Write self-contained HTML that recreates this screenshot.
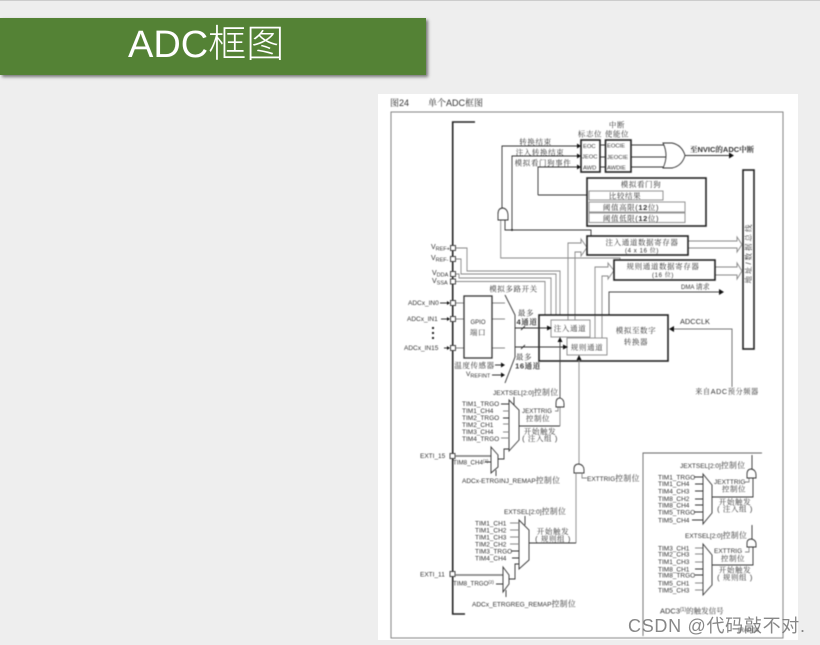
<!DOCTYPE html>
<html><head><meta charset="utf-8"><style>
html,body{margin:0;padding:0;background:#eee;width:820px;height:645px;overflow:hidden}
#top{position:absolute;left:0;top:0;width:820px;height:1px;background:#ccc}
#title{position:absolute;left:0;top:18px;width:426px;height:57px;background:#548235;box-shadow:2px 2px 3px #777}
#tt{position:absolute;left:128px;top:18px;font:300 38px/55px "Liberation Sans","Noto Sans CJK SC",sans-serif;color:#fff;white-space:nowrap}
#panel{position:absolute;left:378px;top:94px;width:420px;height:546px;background:#fff}
#d{position:absolute;left:0;top:0;filter:blur(.45px)}
#wm{position:absolute;left:628px;top:613px;font:18px/26px "Liberation Sans","Noto Sans CJK SC",sans-serif;color:rgba(105,105,105,.8);white-space:nowrap;letter-spacing:.7px}
text{font-family:"Liberation Sans","Noto Serif CJK SC",serif;fill:#333;font-size:6.5px}
.c{font-size:7.5px;letter-spacing:.6px;text-anchor:middle}
.z{font-size:7.8px;letter-spacing:.4px}
.b{font-weight:bold}
.g{fill:none;stroke:#888;stroke-width:.9}
.k{fill:none;stroke:#333;stroke-width:.9}
.m{fill:none;stroke:#444;stroke-width:.9}
.t{fill:#fff;stroke:#222;stroke-width:1.6}
.w{fill:#fff;stroke:#888;stroke-width:.9}
.p{fill:#fff;stroke:#333;stroke-width:.9}
.a{fill:#111;stroke:none}
</style></head><body>
<div id="top"></div>
<div id="title"></div><div id="tt">ADC框图</div>
<div id="panel"></div>
<svg id="d" width="820" height="645" viewBox="0 0 820 645" xmlns="http://www.w3.org/2000/svg">
<rect x="391" y="112" width="392" height="526" fill="none" stroke="#777" stroke-width=".9"/>
<text x="390" y="106" style="font-size:9px">图24</text>
<text x="428" y="106" style="font-size:9px">单个ADC框图</text>

<path d="M475 122H452.7V614H465" fill="none" stroke="#222" stroke-width="1.6"/>

<!-- top connectors -->
<path class="k" d="M502 208V146H578M512 230V156H578M538 195V167H578M538 195H589M505 220V230H591V236"/>
<path class="g" d="M500.7 220V258H620V260"/>
<circle cx="512" cy="230" r="1" fill="#222"/>
<path class="a" d="M577 143.500l4 2.500-4 2.500zM577 153.500l4 2.500-4 2.500zM577 164.500l4 2.500-4 2.500z"/>
<path class="p" d="M498 220V214Q498 208 503 208Q508 209 508 216V220Z"/>
<text class="c" x="535.500" y="144.500">转换结束</text>
<text class="c" x="540" y="154.800">注入转换结束</text>
<text class="c" x="543" y="165.300">模拟看门狗事件</text>
<text class="c" x="590" y="136.500">标志位</text>
<text class="c" x="617" y="127.500">中断</text>
<text class="c" x="617" y="136.500">使能位</text>

<rect class="t" x="581" y="140" width="19" height="32"/>
<rect class="t" x="605.500" y="140" width="25.500" height="32"/>
<path class="k" d="M600 145H605M600 157H605M600 167H605M631 145H667M631 157H668M631 167H667"/>
<text x="583" y="148" style="font-size:5.8px">EOC</text>
<text x="582" y="158.500" style="font-size:5.8px">JEOC</text>
<text x="583" y="169.500" style="font-size:5.8px">AWD</text>
<text x="607" y="147.500" style="font-size:5.8px">EOCIE</text>
<text x="607" y="159" style="font-size:5.8px">JEOCIE</text>
<text x="607" y="169.500" style="font-size:5.8px">AWDIE</text>
<path class="p" d="M663 143Q669 155.500 663 168H672Q682 166 685 155.500Q682 145 672 143Z"/>
<path class="k" d="M685 155.500H730"/><path class="a" d="M729 152.500l5 3-5 3z"/>
<text x="690" y="152" class="b" style="font-size:7.5px">至NVIC的ADC中断</text>

<!-- watchdog -->
<rect class="t" x="587" y="178" width="119" height="48"/>
<text class="c" x="641" y="187">模拟看门狗</text>
<rect class="w" x="589" y="191" width="74" height="9"/>
<text class="c" x="625" y="198.500">比较结果</text>
<rect class="w" x="589" y="202" width="96" height="10"/>
<text class="c" x="631" y="210">阈值高限(<tspan class="b">12</tspan>位)</text>
<rect class="w" x="589" y="213" width="96" height="9.500"/>
<text class="c" x="631" y="221">阈值低限(<tspan class="b">12</tspan>位)</text>

<!-- bus -->
<rect class="t" x="743" y="170" width="11" height="179"/>
<text class="c" transform="translate(751 253) rotate(-90)" style="letter-spacing:2px">地址/数据总线</text>

<!-- registers -->
<path class="g" d="M688 241H737V237L742 244.500L737 252V248H688M715 267H737V263L742 271L737 279V275H715"/>
<path class="g" d="M568 320V243H581V239L587 247.500L581 256V252H575V320M595 320V267H608V263L614 270.500L608 279V276H602V338"/>
<rect class="t" x="587" y="236" width="101" height="19"/>
<text class="c" x="642" y="245">注入通道数据寄存器</text>
<text class="c" x="642" y="252.500" style="font-size:6px">(4 x 16 位)</text>
<rect class="t" x="614" y="260" width="101" height="20"/>
<text class="c" x="663" y="269">规则通道数据寄存器</text>
<text class="c" x="663" y="277" style="font-size:6px">(16 位)</text>
<path class="m" d="M609 315V292H720"/><path class="a" d="M719 289l5 3-5 3z"/>
<text x="681" y="289" style="font-size:6px">DMA <tspan style="font-size:7px">请求</tspan></text>

<!-- VREF lines -->
<path class="g" d="M456 248H467V271H560V315M456 259H461V274H556V315M456 274H459V278H551V315M456 281.500H545V315"/>

<!-- ADC block -->
<rect x="539" y="315" width="129" height="46" fill="#fff" stroke="#222" stroke-width="1.600"/>
<path class="g" d="M568 316V321M575 316V321M595 316V339M602 316V339"/>
<rect class="w" x="551" y="320" width="39" height="17"/>
<rect class="w" x="567" y="338" width="40" height="17"/>
<text class="c" x="570" y="331">注入通道</text>
<text class="c" x="587" y="350">规则通道</text>
<text class="c" x="636" y="333">模拟至数字</text>
<text class="c" x="636" y="344.500">转换器</text>
<path d="M732 387V329H672" fill="none" stroke="#777" stroke-width="1"/><path class="a" d="M674 326l-5 3 5 3z"/>
<text x="680" y="324" style="font-size:7.4px">ADCCLK</text>
<text class="c" x="727" y="394" style="font-size:7.2px">来自ADC预分频器</text>

<!-- pads and left labels -->
<text x="431" y="249" style="font-size:7px">V<tspan dy="1.500" style="font-size:5.5px">REF+</tspan></text>
<text x="431" y="260" style="font-size:7px">V<tspan dy="1.500" style="font-size:5.5px">REF-</tspan></text>
<text x="432" y="275" style="font-size:7px">V<tspan dy="1.500" style="font-size:5.5px">DDA</tspan></text>
<text x="432" y="283" style="font-size:7px">V<tspan dy="1.500" style="font-size:5.5px">SSA</tspan></text>
<text x="408" y="305">ADCx_IN0</text>
<text x="407" y="321">ADCx_IN1</text>
<text x="404" y="350">ADCx_IN15</text>
<path class="k" d="M440 303H448M441 319H448M444 348H448"/>
<path class="a" d="M447 301l3 2-3 2zM447 317l3 2-3 2zM447 346l3 2-3 2z"/>
<rect x="432" y="327" width="2" height="2" fill="#222"/><rect x="432" y="332" width="2" height="2" fill="#222"/><rect x="432" y="337" width="2" height="2" fill="#222"/>
<path class="g" d="M456 303H464M456 319H464M456 348H464M492 303H505M492 319H508M492 348H507"/>
<rect class="p" x="450.500" y="245.500" width="5" height="5"/>
<rect class="p" x="450.500" y="256.500" width="5" height="5"/>
<rect class="p" x="450.500" y="271.500" width="5" height="5"/>
<rect class="p" x="450.500" y="279" width="5" height="5"/>
<rect class="p" x="450.500" y="300.500" width="5" height="5"/>
<rect class="p" x="450.500" y="316.500" width="5" height="5"/>
<rect class="p" x="450.500" y="345.500" width="5" height="5"/>
<rect class="p" x="450" y="453.500" width="5" height="5"/>
<rect class="p" x="450" y="571.500" width="5" height="5"/>

<rect x="464" y="296" width="28" height="62" fill="#fff" stroke="#333" stroke-width="1.300"/>
<text x="478" y="324" text-anchor="middle" style="font-size:6px">GPIO</text>
<text class="c" x="478" y="335">端口</text>

<path class="p" d="M505 295L515 315V357L505 383" />
<text class="c" x="513.500" y="291.500">模拟多路开关</text>
<text class="c" x="526" y="315.500">最多</text>
<text class="c b" x="527" y="324.500">4通道</text>
<text class="c" x="524" y="359.500">最多</text>
<text class="c b" x="528" y="368.500">16通道</text>
<path class="k" d="M515 328H548M515 347H564M521 330L525 326M521 349L525 345"/>
<path class="a" d="M547 325.500l5 2.500-5 2.500zM563 344.500l5 2.500-5 2.500z"/>
<text class="c" x="474.500" y="368">温度传感器</text>
<text x="466" y="376" style="font-size:6.5px">V<tspan dy="1.500" style="font-size:5.5px">REFINT</tspan></text>
<path class="k" d="M495 365H502M492 375H502"/>
<path class="a" d="M501 362.500l4 2.500-4 2.500zM501 372.500l4 2.500-4 2.500z"/>

<!-- trigger vertical -->
<path class="m" d="M560 398V340"/><path class="a" d="M557.500 342l2.500-5 2.500 5z"/>
<path class="g" d="M579 464V358"/><path class="a" d="M576.500 360l2.500-5 2.500 5z"/>

<!-- injected -->
<text x="493" y="395">JEXTSEL[2:0]<tspan class="z">控制位</tspan></text>
<path class="k" d="M514 397V405"/>
<path class="p" d="M509 400L519 410V440L509 451Z"/>
<g><text x="462" y="406">TIM1_TRGO</text><text x="462" y="413">TIM1_CH4</text><text x="462" y="420">TIM2_TRGO</text><text x="462" y="427">TIM2_CH1</text><text x="462" y="434">TIM3_CH4</text><text x="462" y="441">TIM4_TRGO</text></g>
<path class="k" d="M501 404H509M503 418H509"/>
<path class="g" d="M503 411H509M503 424H509M503 432H509M501 438H509"/>
<path class="k" d="M519 426H560"/>
<path class="g" d="M560 407V426M555 411H558V407"/>
<path class="p" d="M556 407V403Q556 398 560 398Q564 399 564 404V407Z"/>
<text x="522" y="413" style="font-size:6.2px">JEXTTRIG</text>
<text class="c" x="538" y="421">控制位</text>
<text class="c" x="540" y="434">开始触发</text>
<text class="c" x="540" y="441">( 注入组 )</text>
<text x="420" y="458">EXTI_15</text>
<path d="M455 456H491" fill="none" stroke="#777" stroke-width="1.600"/>
<text x="453" y="464.500" style="font-size:6.2px">TIM8_CH4<tspan dy="-2" style="font-size:4.5px">(2)</tspan></text>
<path class="k" d="M485 462H491M498 459H504V449H509M496 470V476"/>
<path class="p" d="M491 447L498 455V467L491 473Z"/>
<text x="462" y="483">ADCx-ETRGINJ_REMAP<tspan class="z">控制位</tspan></text>

<path class="p" d="M574 473V469Q574 464 579 464Q584 465 584 470V473Z"/>
<path class="g" d="M576 473V543M582 473V478H587"/>
<text x="587" y="481">EXTTRIG<tspan class="z">控制位</tspan></text>

<!-- regular -->
<text x="504" y="514">EXTSEL[2:0]<tspan class="z">控制位</tspan></text>
<path class="k" d="M525 516V525M529 543H576"/>
<path class="p" d="M519 520L529 530V560L519 569Z"/>
<g><text x="475" y="525.500">TIM1_CH1</text><text x="475" y="532.500">TIM1_CH2</text><text x="475" y="539.500">TIM1_CH3</text><text x="475" y="546.500">TIM2_CH2</text><text x="475" y="553.500">TIM3_TRGO</text><text x="475" y="560.500">TIM4_CH4</text></g>
<path class="g" d="M510 523H519M510 530H519M510 537H519M510 544H519"/>
<path class="k" d="M511 551H519M512 558H519"/>
<text class="c" x="553" y="534">开始触发</text>
<text class="c" x="553" y="541.500">( 规则组 )</text>
<text x="420" y="576.500">EXTI_11</text>
<path d="M455 575H503" fill="none" stroke="#777" stroke-width="1.600"/>
<text x="453" y="585.500" style="font-size:6.2px">TIM8_TRGO<tspan dy="-2" style="font-size:4.5px">(2)</tspan></text>
<path class="k" d="M496 584H503M509 579H515V564H519M506 590V597"/>
<path class="p" d="M503 567L509 575V584L503 592Z"/>
<text x="472" y="606.500">ADCx_ETRGREG_REMAP<tspan class="z">控制位</tspan></text>

<!-- ADC3 box -->
<path fill="none" stroke="#666" stroke-width=".9" d="M762 453H643V636"/>
<text x="680" y="468">JEXTSEL[2:0]<tspan class="z">控制位</tspan></text>
<g style="font-size:6.2px"><text x="658" y="479.500">TIM1_TRGO</text><text x="658" y="486">TIM1_CH4</text><text x="658" y="493.500">TIM4_CH3</text><text x="658" y="501">TIM8_CH2</text><text x="658" y="507.500">TIM8_CH4</text><text x="658" y="514.500">TIM5_TRGO</text><text x="658" y="522.500">TIM5_CH4</text></g>
<path class="k" d="M694 477H703M695 484H703M695 491H703M695 499H703M695 505H703M694 512H703M692 520H703"/>
<path class="p" d="M703 474L712 485V513L703 524Z"/>
<path class="k" d="M712 497H753V478M752 469V455"/>
<path class="g" d="M745 482H749V478"/>
<path class="p" d="M747 478V474Q747 469 751.500 469Q756 470 756 475V478Z"/>
<text x="714" y="484">JEXTTRIG</text>
<text class="c" x="734" y="491.500">控制位</text>
<text class="c" x="735" y="504.500">开始触发</text>
<text class="c" x="735" y="511.500">( 注入组 )</text>

<text x="685" y="538">EXTSEL[2:0]<tspan class="z">控制位</tspan></text>
<g style="font-size:6.2px"><text x="658" y="550.500">TIM3_CH1</text><text x="658" y="556.500">TIM2_CH3</text><text x="658" y="564">TIM1_CH3</text><text x="658" y="571.500">TIM8_CH1</text><text x="658" y="577.500">TIM8_TRGO</text><text x="658" y="585.500">TIM5_CH1</text><text x="658" y="592.500">TIM5_CH3</text></g>
<path class="g" d="M695 548H703M695 554H703M695 562H703M695 583H703M695 590H703"/>
<path class="k" d="M695 569H703M695 575H703"/>
<path class="p" d="M703 544L712 555V585L703 595Z"/>
<path class="k" d="M712 565H753V547M752 539V525"/>
<path class="g" d="M745 552H749V547"/>
<path class="p" d="M747 547V543Q747 539 751.500 539Q756 540 756 544V547Z"/>
<text x="714" y="553">EXTTRIG</text>
<text class="c" x="733" y="561">控制位</text>
<text class="c" x="735" y="572.500">开始触发</text>
<text class="c" x="735" y="580">( 规则组 )</text>
<text x="660" y="613.500" style="font-size:7.5px">ADC3<tspan dy="-2.500" style="font-size:5px">(1)</tspan><tspan dy="2.500">的触发信号</tspan></text>
<text x="738" y="632" style="font-size:6px">|RAD04</text>
</svg>
<div id="wm">CSDN @代码敲不对.</div>
</body></html>
